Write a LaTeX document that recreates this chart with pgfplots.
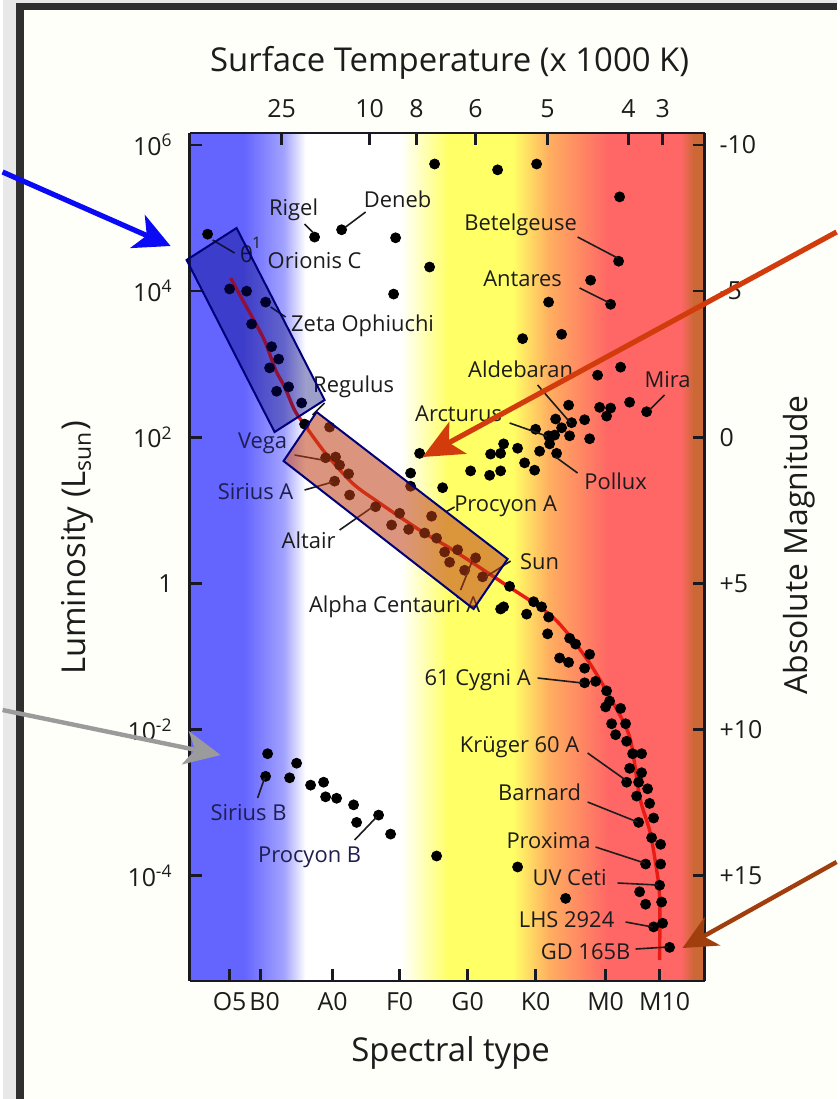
\documentclass[border=0pt]{standalone}
\usepackage{pgfplots}
\pgfplotsset{compat=1.18}
\usepackage{fontspec}
\setmainfont{Open Sans}
\usetikzlibrary{arrows.meta}
\definecolor{bgblue}{RGB}{100,100,255}
\definecolor{lblue}{RGB}{165,165,255}
\definecolor{cream}{RGB}{255,255,250}
\definecolor{byellow}{RGB}{255,255,102}
\definecolor{borange}{RGB}{255,176,96}
\definecolor{bred}{RGB}{255,102,102}
\definecolor{bbrown}{RGB}{204,104,54}
\definecolor{darkframe}{RGB}{47,47,47}
\definecolor{axiscol}{RGB}{25,25,35}
\definecolor{curvered}{RGB}{232,28,20}
\definecolor{labcol}{RGB}{28,28,28}
\definecolor{navylab}{RGB}{30,30,80}
\definecolor{boxnavy}{RGB}{0,0,120}
\definecolor{boxorange}{RGB}{190,62,22}
\definecolor{arrblue}{RGB}{10,10,245}
\definecolor{arrgray}{RGB}{155,155,155}
\definecolor{arrred}{RGB}{210,60,12}
\definecolor{arrbrown}{RGB}{160,62,14}
\tikzset{lab/.style={font=\fontsize{11}{13}\selectfont, text=labcol, inner sep=0pt},
         lead/.style={draw=labcol, line width=0.8bp}}
\begin{document}
\begin{tikzpicture}
\begin{scope}[x=0.5bp,y=-0.5bp]
\useasboundingbox (0,0) rectangle (834,1099);
\fill[gray!18] (0,0) rectangle (834,1099);
\fill[darkframe] (13,2.7) rectangle (834,10);
\fill[darkframe] (13,2.7) rectangle (21,1099);
\fill[cream] (21,10) rectangle (834,1099);
% spectral colour background
\fill[bgblue] (187,133) rectangle (242,981);
\shade[left color=bgblue, right color=lblue] (241,133) rectangle (283,981);
\shade[left color=lblue, right color=white] (282,133) rectangle (303,981);
\fill[white] (302,133) rectangle (399,981);
\shade[left color=white, right color=byellow] (398,133) rectangle (446,981);
\fill[byellow] (445,133) rectangle (511,981);
\shade[left color=byellow, right color=borange] (510,133) rectangle (546,981);
\shade[left color=borange, right color=bred] (545,133) rectangle (606,981);
\fill[bred] (605,133) rectangle (679,981);
\shade[left color=bred, right color=bbrown] (678,133) rectangle (691,981);
\fill[bbrown] (690,133) rectangle (702,981);
\end{scope}

\begin{axis}[
  at={(93.5bp,-490.5bp)}, anchor=south west,
  scale only axis, width=257.5bp, height=424bp,
  xmin=187, xmax=702, ymin=-5.441, ymax=6.164,
  axis x line*=bottom, axis y line*=left,
  axis line style={draw=axiscol, line width=1.4bp},
  tick style={draw=axiscol, line width=1.3bp},
  major tick length=6bp, tick align=inside,
  xtick={227,258,330,397,465,533,603,657},
  xticklabels={O5\hspace{3bp},\hspace{4bp}B0,A0,F0,G0,K0,M0,\hspace{5bp}M10},
  ytick={-4,-2,0,2,4,6},
  yticklabels={10\textsuperscript{-4},10\textsuperscript{-2},1,10\textsuperscript{2},10\textsuperscript{4},10\textsuperscript{6}},
  tick label style={font=\fontsize{12.5}{14}\selectfont, text=labcol},
  xticklabel style={yshift=-2bp},
  yticklabel style={xshift=-5bp},
  clip=false,
]
% main sequence curve
\addplot[smooth, draw=curvered, line width=1.7bp] coordinates {
(228,4.18) (240,3.88) (253,3.56) (263,3.29) (273,2.92) (282,2.69) (292,2.37) (302,2.17)
(323,1.78) (350,1.37) (377,1.10) (417,0.73) (450,0.46) (500,0.01) (550,-0.46) (583,-1.01)
(607,-1.55) (627,-2.10) (637,-2.92) (647,-3.38) (653,-3.83) (657,-4.29) (657,-5.15)};
% giants and supergiants
\addplot[only marks, mark=*, mark size=2.5bp, mark options={fill=black, draw=black}] coordinates {
(205,4.78) (312,4.74) (339,4.84) (393,4.73) (391,3.96) (432,5.74) (495,5.66) (534,5.74)
(617,5.29) (616,4.41) (427,4.33) (588,4.15) (546,3.85) (608,3.82) (520,3.35) (559,3.41)
(595,2.85) (618,2.96) (627,2.48) (644,2.35) (566,2.44) (597,2.41) (608,2.40) (604,2.29)
(553,2.25) (569,2.20) (582,2.24) (559,2.13) (533,2.11) (546,2.02) (552,2.03) (567,2.02)
(587,1.98) (547,1.91) (501,1.91) (515,1.85) (537,1.81) (554,1.78) (417,1.78) (488,1.77)
(498,1.78) (522,1.65) (532,1.55) (408,1.51) (468,1.54) (487,1.48) (498,1.54) (408,1.33)
(440,1.31)};
% main sequence stars
\addplot[only marks, mark=*, mark size=2.5bp, mark options={fill=black, draw=black}] coordinates {
(227,4.03) (244,4.00) (263,3.85) (249,3.55) (269,3.24) (276,3.07) (267,2.95) (286,2.69)
(274,2.63) (299,2.47) (302,2.18) (327,2.14) (323,1.72) (333,1.73) (337,1.62) (346,1.50)
(332,1.40) (347,1.21) (373,1.05) (397,0.96) (429,0.92) (389,0.80) (406,0.74) (422,0.69)
(434,0.62) (442,0.43) (455,0.46) (447,0.29) (473,0.35) (462,0.18) (480,0.09) (507,-0.04)
(501,-0.32) (531,-0.25) (539,-0.32) (524,-0.42) (546,-0.46) (545,-0.69) (567,-0.75) (573,-0.83)
(587,-0.97) (557,-1.02) (566,-1.08) (582,-1.16) (582,-1.36) (593,-1.34) (604,-1.47) (607,-1.61)
(618,-1.71) (603,-1.69) (609,-1.92) (623,-1.92) (613,-2.07) (624,-2.16) (630,-2.33) (639,-2.33)
(627,-2.53) (639,-2.59) (624,-2.72) (636,-2.72) (645,-2.81) (634,-2.91) (647,-3.01) (651,-3.21)
(636,-3.27) (649,-3.48) (658,-3.57) (643,-3.84) (658,-3.84) (657,-4.13) (637,-4.22) (659,-4.36)
(643,-4.39) (660,-4.65) (651,-4.70) (667,-4.98) (498,-0.35) (515,-3.88) (563,-4.31)};
% white dwarfs
\addplot[only marks, mark=*, mark size=2.5bp, mark options={fill=black, draw=black}] coordinates {
(265,-2.33) (294,-2.46) (263,-2.64) (287,-2.66) (308,-2.76) (321,-2.72) (323,-2.92) (334,-2.94)
(351,-3.03) (354,-3.27) (376,-3.17) (388,-3.43) (434,-3.73)};
\end{axis}

\begin{axis}[
  at={(93.5bp,-490.5bp)}, anchor=south west,
  scale only axis, width=257.5bp, height=424bp,
  xmin=187, xmax=702, ymin=-5.441, ymax=6.164,
  axis x line*=top, axis y line*=right,
  axis line style={draw=axiscol, line width=1.4bp},
  tick style={draw=axiscol, line width=1.3bp},
  major tick length=6bp, tick align=inside,
  xtick={279,367,414,473,545,626,660},
  xticklabels={25,10,8,6,5,4,3},
  ytick={-4,-2,0,2,4,6},
  yticklabels={+15,+10,+5,0,-5,-10},
  tick label style={font=\fontsize{12.5}{14}\selectfont, text=labcol},
  xticklabel style={yshift=4bp},
  yticklabel style={xshift=4bp},
]
\addplot[draw=none] coordinates {(400,0)};
\end{axis}

\begin{scope}[x=0.5bp,y=-0.5bp]
% titles
\node[font=\fontsize{16.5}{19}\selectfont, text=labcol] at (447,63) {Surface Temperature (x 1000 K)};
\node[font=\fontsize{16.5}{19}\selectfont, text=labcol] at (448,1053) {Spectral type};
\node[font=\fontsize{16.5}{19}\selectfont, text=labcol, rotate=90] at (75,548) {Luminosity (L\textsubscript{sun})};
\node[font=\fontsize{16}{19}\selectfont, text=labcol, rotate=90] at (797,545) {Absolute Magnitude};
% leader lines
\draw[lead] (302,224) -- (311,233);
\draw[lead] (363,212) -- (343,227);
\draw[lead] (210,240) -- (232,253);
\draw[lead] (268,307) -- (283,317);
\draw[lead] (322,403) -- (310,415);
\draw[lead] (292,455) -- (320,460);
\draw[lead] (302,490) -- (330,482);
\draw[lead] (337,530) -- (370,507);
\draw[lead] (458,590) -- (470,560);
\draw[lead] (443,512) -- (452,507);
\draw[lead] (508,561) -- (483,577);
\draw[lead] (575,237) -- (615,258);
\draw[lead] (577,288) -- (607,303);
\draw[lead] (535,385) -- (568,423);
\draw[lead] (507,423) -- (544,436);
\draw[lead] (662,395) -- (647,410);
\draw[lead] (553,457) -- (575,473);
\draw[lead] (535,678) -- (580,683);
\draw[lead] (585,753) -- (623,780);
\draw[lead] (585,802) -- (635,822);
\draw[lead] (593,847) -- (642,863);
\draw[lead] (615,883) -- (655,885);
\draw[lead] (623,922) -- (650,927);
\draw[lead] (633,949) -- (665,947);
\draw[lead] (255,798) -- (262,778);
\draw[lead] (352,840) -- (374,817);
% star labels
\node[lab] at (291,210) {Rigel};
\node[lab] at (395,199) {Deneb};
\node[lab] at (244,254) {θ};
\node[lab, font=\fontsize{8}{9}\selectfont] at (254,243) {1};
\node[lab] at (312,261) {Orionis C};
\node[lab] at (360,326) {Zeta Ophiuchi};
\node[lab] at (351,387) {Regulus};
\node[lab, text=navylab] at (260,443) {Vega};
\node[lab, text=navylab] at (253,492) {Sirius A};
\node[lab] at (306,540) {Altair};
\node[lab] at (392,607) {Alpha Centauri A};
\node[lab] at (503,506) {Procyon A};
\node[lab] at (537,562) {Sun};
\node[lab] at (518,225) {Betelgeuse};
\node[lab] at (520,279) {Antares};
\node[lab] at (518,369) {Aldebaran};
\node[lab] at (456,414) {Arcturus};
\node[lab] at (665,380) {Mira};
\node[lab] at (613,481) {Pollux};
\node[lab] at (475,680) {61 Cygni A};
\node[lab] at (517,747) {Krüger 60 A};
\node[lab] at (537,792) {Barnard};
\node[lab] at (546,841) {Proxima};
\node[lab] at (567,878) {UV Ceti};
\node[lab] at (564,920) {LHS 2924};
\node[lab] at (583,952) {GD 165B};
\node[lab, text=navylab] at (246,813) {Sirius B};
\node[lab, text=navylab] at (307,857) {Procyon B};
% highlight boxes
\filldraw[fill=boxnavy, fill opacity=0.38, draw=boxnavy, line width=1bp] (184,260) -- (234,228) -- (322,400) -- (272,432) -- cycle;
\filldraw[fill=boxorange, fill opacity=0.55, draw=boxnavy, line width=1bp] (314,412) -- (281,461) -- (471,609) -- (505,559) -- cycle;
% arrows
\draw[line width=2.6bp, draw=arrblue, -{Stealth[length=18bp, width=18bp, inset=5bp]}] (0,172) -- (168,246);
\draw[line width=2.2bp, draw=arrgray, -{Stealth[length=18bp, width=17bp, inset=5bp]}] (0,710) -- (218,755);
\draw[line width=2.6bp, draw=arrred, -{Stealth[length=20bp, width=18bp, inset=5bp]}] (834,232) -- (420,457);
\draw[line width=2.2bp, draw=arrbrown, -{Stealth[length=17bp, width=16bp, inset=5bp]}] (834,862) -- (680,948);
\end{scope}
\end{tikzpicture}
\end{document}
